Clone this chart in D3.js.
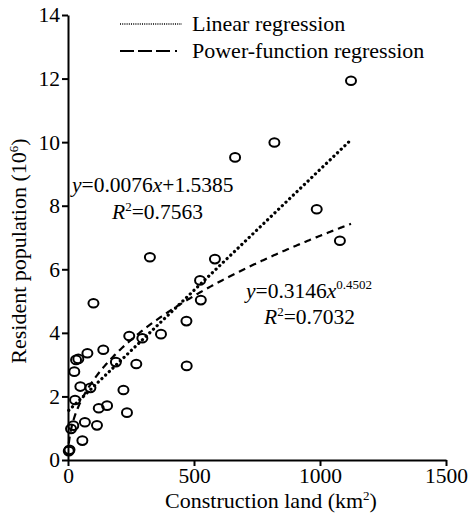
<!DOCTYPE html>
<html>
<head>
<meta charset="UTF-8">
<script src="https://d3js.org/d3.v7.min.js"></script>
</head>
<body style="margin:0">
<script>
// construction land (km2) and resident population (10^6)
var land = [3, 6, 12, 21, 57, 67, 115, 122, 155, 234, 220, 28, 49, 89, 25, 32, 41, 77,
            140, 190, 271, 243, 295, 369, 101, 470, 471, 325, 583, 524, 527, 663, 819,
            987, 1079, 1123];
var pop = [0.28, 0.32, 0.98, 1.08, 0.61, 1.19, 1.09, 1.63, 1.71, 1.49, 2.2, 1.89, 2.31,
           2.27, 2.78, 3.15, 3.18, 3.36, 3.47, 3.08, 3.02, 3.9, 3.83, 3.96, 4.93, 4.37,
           2.96, 6.38, 6.32, 5.65, 5.03, 9.52, 9.99, 7.89, 6.9, 11.93];
var xTicks = [0, 500, 1000, 1500];
var yTicks = [0, 2, 4, 6, 8, 10, 12, 14];

// regression coefficients printed on the chart
var linA = 0.0076, linB = 1.5385, linR2 = "0.7563";
var powA = 0.3146, powB = 0.4502, powR2 = "0.7032";

var FONT = "Liberation Serif, Tinos, Times New Roman, FreeSerif, serif";
var w = 470, h = 519;
var svg = d3.select("body").append("svg")
            .attr("width", w)
            .attr("height", h);

var x = d3.scaleLinear().domain([0, 1500]).range([68, 446]);
var y = d3.scaleLinear().domain([0, 14]).range([460, 15]);

var points = land.map(function(d, i){ return { x: d, y: pop[i] }; });

// axes
var xAxis = svg.append("g")
    .attr("transform", "translate(0," + y(0) + ")")
    .call(d3.axisBottom(x).tickValues(xTicks).tickFormat(d3.format("d"))
            .tickSize(6).tickSizeOuter(0).tickPadding(2));
var yAxis = svg.append("g")
    .attr("transform", "translate(" + x(0) + ",0)")
    .call(d3.axisLeft(y).tickValues(yTicks).tickFormat(d3.format("d"))
            .tickSize(6).tickSizeOuter(0).tickPadding(2));

[xAxis, yAxis].forEach(function(g){
  g.attr("font-family", FONT).attr("font-size", 21.5);
  g.select(".domain").attr("stroke", "#000").attr("stroke-width", 2);
  g.selectAll(".tick line").attr("stroke", "#000").attr("stroke-width", 2);
  g.selectAll(".tick text").attr("fill", "#000");
});

// fitted curves
var xs = d3.range(3, 1124, 4);
var lineGen = d3.line()
    .x(function(d){ return x(d[0]); })
    .y(function(d){ return y(d[1]); });

svg.append("path")
    .datum(xs.map(function(v){ return [v, linA * v + linB]; }))
    .attr("d", lineGen)
    .attr("fill", "none")
    .attr("stroke", "#000")
    .attr("stroke-width", 3.2)
    .attr("stroke-linecap", "round")
    .attr("stroke-dasharray", "0.1 5");

svg.append("path")
    .datum(xs.map(function(v){ return [v, powA * Math.pow(v, powB)]; }))
    .attr("d", lineGen)
    .attr("fill", "none")
    .attr("stroke", "#000")
    .attr("stroke-width", 2.2)
    .attr("stroke-dasharray", "7 5");

// data points
svg.selectAll("ellipse")
    .data(points)
    .enter()
    .append("ellipse")
    .attr("cx", function(d){ return x(d.x); })
    .attr("cy", function(d){ return y(d.y); })
    .attr("rx", 5)
    .attr("ry", 4.3)
    .attr("fill", "none")
    .attr("stroke", "#000")
    .attr("stroke-width", 2);

function label(xp, yp, size){
  return svg.append("text")
    .attr("x", xp).attr("y", yp)
    .attr("font-family", FONT)
    .attr("font-size", size || 22);
}

// legend
svg.append("line")
    .attr("x1", 120).attr("x2", 182).attr("y1", 24).attr("y2", 24)
    .attr("stroke", "#000").attr("stroke-width", 1.3)
    .attr("stroke-dasharray", "1 1.2");
svg.append("line")
    .attr("x1", 120).attr("x2", 180).attr("y1", 51).attr("y2", 51)
    .attr("stroke", "#000").attr("stroke-width", 2)
    .attr("stroke-dasharray", "14 4 14 4 14 5 2");
label(192, 31).text("Linear regression");
label(192, 58).text("Power-function regression");

// equations
var eq1 = label(72, 192, 21.5);
eq1.append("tspan").attr("font-style", "italic").text("y");
eq1.append("tspan").text("=" + linA);
eq1.append("tspan").attr("font-style", "italic").text("x");
eq1.append("tspan").text("+" + linB.toFixed(4));

var r1 = label(112, 219, 21.5);
r1.append("tspan").attr("font-style", "italic").text("R");
r1.append("tspan").attr("dy", -8).attr("font-size", 13).text("2");
r1.append("tspan").attr("dy", 8).text("=" + linR2);

var eq2 = label(246, 298, 21.5);
eq2.append("tspan").attr("font-style", "italic").text("y");
eq2.append("tspan").text("=" + powA);
eq2.append("tspan").attr("font-style", "italic").text("x");
eq2.append("tspan").attr("dy", -9).attr("font-size", 13).text(powB.toFixed(4));

var r2 = label(264, 324, 21.5);
r2.append("tspan").attr("font-style", "italic").text("R");
r2.append("tspan").attr("dy", -8).attr("font-size", 13).text("2");
r2.append("tspan").attr("dy", 8).text("=" + powR2);

// axis titles
var xt = label(271, 508).attr("text-anchor", "middle");
xt.append("tspan").text("Construction land (km");
xt.append("tspan").attr("dy", -8).attr("font-size", 13).text("2");
xt.append("tspan").attr("dy", 8).text(")");

var yt = label(0, 0)
    .attr("transform", "translate(26,251) rotate(-90)")
    .attr("text-anchor", "middle");
yt.append("tspan").text("Resident population (10");
yt.append("tspan").attr("dy", -8).attr("font-size", 13).text("6");
yt.append("tspan").attr("dy", 8).text(")");
</script>
</body>
</html>
